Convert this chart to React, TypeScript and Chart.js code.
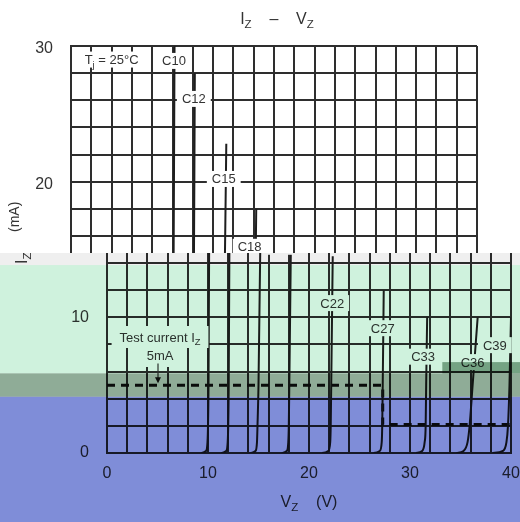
import React, { useEffect, useRef } from 'react';
import { Chart, registerables } from 'chart.js';

Chart.register(...registerables);

const FONT = '"Liberation Sans", Arial, Helvetica, sans-serif';
const GRID = '#2e2e2e';
const INK = '#333333';

// axis ranges and tick labels
const xRange = [0, 40];
const yRange = [0, 30];
const gridStep = 2;
const xLabelValues = [0, 10, 20, 30, 40];
const yLabelValues = [0, 10, 20, 30];

// Zener curves: V_Z (V) vs I_Z (mA)
const curveNames = ['C10', 'C12', 'C15', 'C18', 'C22', 'C27', 'C33', 'C36', 'C39'];
const c10V = [9.3, 9.8, 9.95, 10.0, 10.05, 10.2];
const c10I = [0, 0.15, 0.8, 2, 5, 30];
const c12V = [11.3, 11.8, 11.95, 12.0, 12.05, 12.2];
const c12I = [0, 0.15, 0.8, 2, 5, 28];
const c15V = [14.2, 14.7, 14.85, 14.9, 15.0, 15.3];
const c15I = [0, 0.15, 0.8, 2, 5, 22.8];
const c18V = [17.3, 17.8, 17.95, 18.0, 18.05, 18.25];
const c18I = [0, 0.15, 0.8, 2, 5, 18];
const c22V = [21.3, 21.9, 22.1, 22.15, 22.2, 22.35];
const c22I = [0, 0.15, 0.8, 2, 5, 14.5];
const c27V = [26.4, 27.0, 27.2, 27.25, 27.3, 27.4];
const c27I = [0, 0.15, 0.8, 2, 5, 12];
const c33V = [30.6, 31.2, 31.45, 31.55, 31.6, 31.7];
const c33I = [0, 0.15, 0.8, 2, 5, 10];
const c36V = [34.6, 35.3, 35.7, 35.9, 36.2, 36.7];
const c36I = [0, 0.15, 0.8, 2, 5, 10];
const c39V = [38.2, 39.2, 39.55, 39.7, 39.85, 40.0];
const c39I = [0, 0.15, 0.8, 2, 5, 10];
const curvesV = [c10V, c12V, c15V, c18V, c22V, c27V, c33V, c36V, c39V];
const curvesI = [c10I, c12I, c15I, c18I, c22I, c27I, c33I, c36I, c39I];

// test current (dashed)
const testCurrentV = [0, 27.3, 27.3, 40];
const testCurrentI = [5, 5, 2.1, 2.1];

// annotations
const labelTexts = ['T_j = 25°C', 'C10', 'C12', 'C15', 'C18', 'C22', 'C27', 'C33', 'C36', 'C39', 'Test current I_Z', '5mA'];
const labelV = [4.0, 10.15, 12.1, 15.05, 17.6, 22.3, 27.3, 31.3, 36.2, 38.4, 5.25, 5.25];
const labelI = [29.0, 28.9, 26.1, 20.2, 15.2, 11.05, 9.2, 7.1, 6.7, 7.95, 8.55, 7.15];
const arrowV = 5.05;
const arrowI = [6.6, 5.15];

type Seg = { t: string; sub?: boolean };

function parse(s: string): Seg[] {
  const out: Seg[] = [];
  let buf = '';
  for (let i = 0; i < s.length; i++) {
    if (s[i] === '_' && i + 1 < s.length) {
      if (buf) out.push({ t: buf });
      out.push({ t: s[i + 1], sub: true });
      buf = '';
      i++;
    } else buf += s[i];
  }
  if (buf) out.push({ t: buf });
  return out;
}

function richWidth(ctx: CanvasRenderingContext2D, segs: Seg[], size: number) {
  let w = 0;
  for (const s of segs) {
    ctx.font = `${s.sub ? size * 0.72 : size}px ${FONT}`;
    w += ctx.measureText(s.t).width;
  }
  return w;
}

function drawRich(ctx: CanvasRenderingContext2D, segs: Seg[], x: number, y: number, size: number) {
  let cx = x;
  ctx.textAlign = 'left';
  ctx.textBaseline = 'alphabetic';
  for (const s of segs) {
    ctx.font = `${s.sub ? size * 0.72 : size}px ${FONT}`;
    ctx.fillText(s.t, cx, s.sub ? y + size * 0.28 : y);
    cx += ctx.measureText(s.t).width;
  }
}

const decorPlugin = {
  id: 'decor',
  beforeDraw(chart: any) {
    const ctx = chart.ctx;
    ctx.save();
    ctx.fillStyle = '#ffffff';
    ctx.fillRect(0, 0, chart.width, chart.height);
    ctx.restore();
  },
  afterDatasetsDraw(chart: any, _args: any, opts: any) {
    const ctx: CanvasRenderingContext2D = chart.ctx;
    const xs = chart.scales.x;
    const ys = chart.scales.y;
    const area = chart.chartArea;
    ctx.save();
    // white boxes behind labels
    const size = 13;
    labelTexts.forEach((txt, k) => {
      const segs = parse(txt);
      const w = richWidth(ctx, segs, size);
      const cx = xs.getPixelForValue(labelV[k]);
      const cy = ys.getPixelForValue(labelI[k]);
      const big = k >= labelTexts.length - 2;
      const px = big ? 8 : 5;
      const py = big ? 11 : 8;
      ctx.fillStyle = '#ffffff';
      ctx.fillRect(cx - w / 2 - px, cy - py, w + 2 * px, 2 * py);
    });
    // label texts
    labelTexts.forEach((txt, k) => {
      const segs = parse(txt);
      const w = richWidth(ctx, segs, size);
      const cx = xs.getPixelForValue(labelV[k]);
      const cy = ys.getPixelForValue(labelI[k]);
      ctx.fillStyle = INK;
      drawRich(ctx, segs, cx - w / 2, cy + 4.5, size);
    });
    // arrow
    const ax = xs.getPixelForValue(arrowV);
    const ay0 = ys.getPixelForValue(arrowI[0]);
    const ay1 = ys.getPixelForValue(arrowI[1]);
    ctx.strokeStyle = INK;
    ctx.lineWidth = 1.2;
    ctx.beginPath();
    ctx.moveTo(ax, ay0);
    ctx.lineTo(ax, ay1 - 4);
    ctx.stroke();
    ctx.fillStyle = '#111';
    ctx.beginPath();
    ctx.moveTo(ax - 3, ay1 - 6);
    ctx.lineTo(ax + 3, ay1 - 6);
    ctx.lineTo(ax, ay1);
    ctx.closePath();
    ctx.fill();
    // chart title
    ctx.fillStyle = INK;
    const tSegs: Seg[] = [{ t: 'I' }, { t: 'Z', sub: true }, { t: '    –    ' }, { t: 'V' }, { t: 'Z', sub: true }];
    const tw = richWidth(ctx, tSegs, 16);
    drawRich(ctx, tSegs, (area.left + area.right) / 2 - tw / 2 + 3, 24, 16);
    // x axis title
    const xSegs: Seg[] = [{ t: 'V' }, { t: 'Z', sub: true }, { t: '    (V)' }];
    const xw = richWidth(ctx, xSegs, 16);
    drawRich(ctx, xSegs, (area.left + area.right) / 2 - xw / 2, 507, 16);
    // y axis title piece
    if (opts.yTitle) {
      const yt = opts.yTitle;
      ctx.save();
      ctx.translate(yt.x, yt.y);
      ctx.rotate(-Math.PI / 2);
      drawRich(ctx, parse(yt.text), 0, 0, yt.size);
      ctx.restore();
    }
    ctx.restore();
  },
  afterDraw(chart: any, _args: any, opts: any) {
    if (!opts.bands) return;
    const ctx: CanvasRenderingContext2D = chart.ctx;
    const xs = chart.scales.x;
    const ys = chart.scales.y;
    const W = chart.width;
    const H = chart.height;
    const p = (v: number) => ys.getPixelForValue(v);
    ctx.save();
    ctx.globalCompositeOperation = 'multiply';
    ctx.fillStyle = '#efefef';
    ctx.fillRect(0, 0, W, p(13.85));
    ctx.fillStyle = '#cff2dd';
    ctx.fillRect(0, p(13.85), W, p(5.87) - p(13.85));
    ctx.fillStyle = '#8fac97';
    ctx.fillRect(0, p(5.87), W, p(4.15) - p(5.87));
    const rx = xs.getPixelForValue(33.2);
    ctx.fillRect(rx, p(6.7), W - rx, p(5.87) - p(6.7));
    ctx.fillStyle = '#7f8dd8';
    ctx.fillRect(0, p(4.15), W, H - p(4.15));
    ctx.restore();
  },
};

function buildDatasets() {
  const ds: any[] = curveNames.map((name, k) => ({
    label: name,
    data: curvesV[k].map((v, i) => ({ x: v, y: curvesI[k][i] })),
    showLine: true,
    borderColor: '#1e1e1e',
    borderWidth: 2,
    pointRadius: 0,
    cubicInterpolationMode: 'monotone',
    fill: false,
  }));
  ds.push({
    label: 'Test current',
    data: testCurrentV.map((v, i) => ({ x: v, y: testCurrentI[i] })),
    showLine: true,
    borderColor: '#111111',
    borderWidth: 3,
    borderDash: [8, 6],
    pointRadius: 0,
    tension: 0,
    fill: false,
  });
  return ds;
}

function makeConfig(upper: boolean): any {
  const axisW = upper ? 71 : 107;
  const padRight = upper ? 43 : 9;
  const tickFont = { family: FONT, size: 16 };
  return {
    type: 'scatter',
    data: { datasets: buildDatasets() },
    options: {
      animation: false,
      responsive: false,
      maintainAspectRatio: false,
      events: [],
      layout: { padding: { left: 0, right: padRight, top: 46, bottom: 0 } },
      plugins: {
        legend: { display: false },
        tooltip: { enabled: false },
        title: { display: false },
        decor: upper
          ? { bands: false, yTitle: { text: '(mA)', x: 19, y: 232, size: 14 } }
          : { bands: true, yTitle: { text: 'I_Z', x: 27, y: 264, size: 16 } },
      },
      scales: {
        x: {
          type: 'linear',
          min: xRange[0],
          max: xRange[1],
          ticks: {
            stepSize: gridStep,
            autoSkip: false,
            maxRotation: 0,
            padding: 11,
            color: INK,
            font: tickFont,
            callback: (v: number) => (xLabelValues.includes(v) ? String(v) : ''),
          },
          grid: { color: GRID, lineWidth: 2, drawTicks: false },
          border: { color: GRID, width: 2 },
          afterFit: (s: any) => {
            s.height = 69;
            s.paddingLeft = 0;
            s.paddingRight = 0;
          },
        },
        y: {
          type: 'linear',
          min: yRange[0],
          max: yRange[1],
          ticks: {
            stepSize: gridStep,
            autoSkip: false,
            padding: 18,
            labelOffset: upper ? 3 : 0,
            color: INK,
            font: tickFont,
            callback: (v: number) => (yLabelValues.includes(v) ? String(v) : ''),
          },
          grid: { color: GRID, lineWidth: 2, drawTicks: false },
          border: { color: GRID, width: 2 },
          afterFit: (s: any) => {
            s.width = axisW;
            s.paddingTop = 0;
            s.paddingBottom = 0;
          },
        },
      },
    },
    plugins: [decorPlugin],
  };
}

export default function App() {
  const upRef = useRef<HTMLCanvasElement>(null);
  const loRef = useRef<HTMLCanvasElement>(null);
  useEffect(() => {
    const a = new Chart(upRef.current as HTMLCanvasElement, makeConfig(true));
    const b = new Chart(loRef.current as HTMLCanvasElement, makeConfig(false));
    return () => {
      a.destroy();
      b.destroy();
    };
  }, []);
  return (
    <div style={{ position: 'fixed', left: 0, top: 0, width: 520, height: 522, background: '#fff', overflow: 'hidden' }}>
      <canvas
        ref={upRef}
        width={520}
        height={522}
        style={{ position: 'absolute', left: 0, top: 0, clipPath: 'inset(0px 0px 269px 0px)' }}
      />
      <canvas
        ref={loRef}
        width={520}
        height={522}
        style={{ position: 'absolute', left: 0, top: 0, clipPath: 'inset(253px 0px 0px 0px)' }}
      />
    </div>
  );
}
